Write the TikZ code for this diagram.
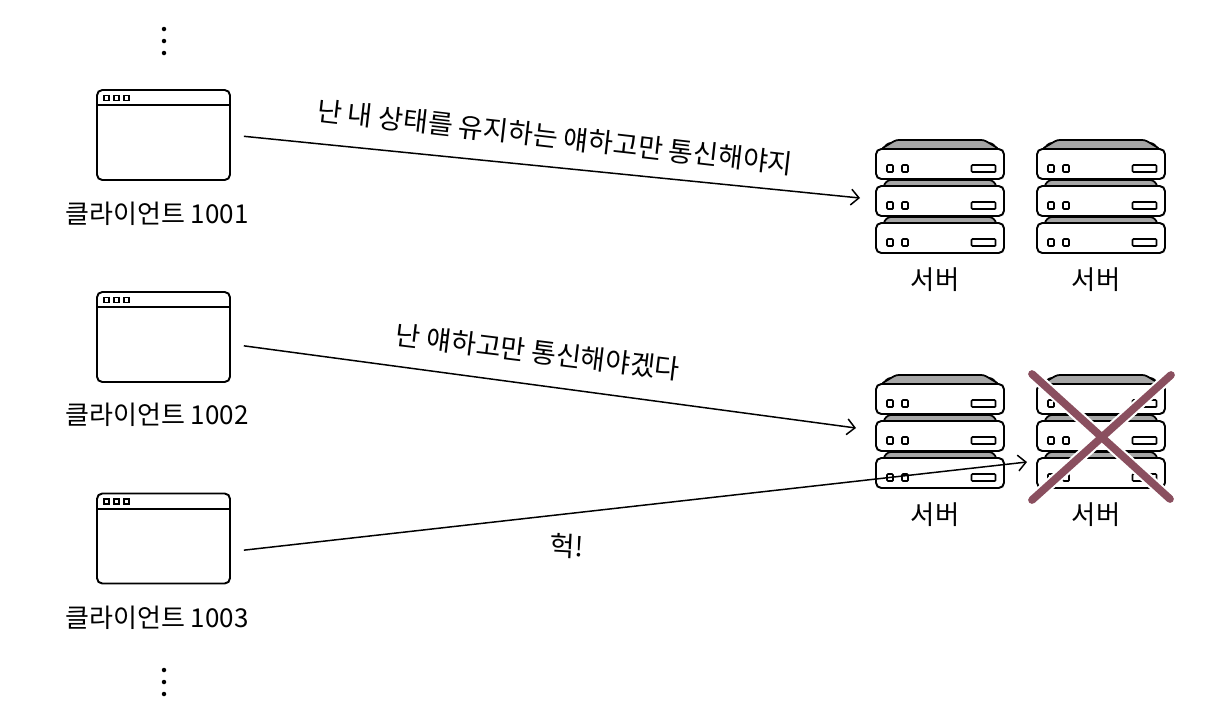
\documentclass[tikz,border=0pt]{standalone}
\usepackage{fontspec}
\setmainfont{Noto Sans CJK KR}
\usetikzlibrary{arrows.meta}
\definecolor{crossred}{HTML}{8A4F5F}

\tikzset{
	sketch/.style={draw=black,line width=1.1pt,fill=white,rounded corners=3pt},
	winbox/.style={sketch,minimum width=2.66cm,minimum height=1.8cm,inner sep=0pt},
	winbtn/.style={draw=black,line width=0.8pt,minimum size=0.1cm,inner sep=0pt},
	srvbox/.style={sketch,minimum width=2.56cm,minimum height=0.6cm,inner sep=0pt},
	srvtop/.style={draw=black,line width=1pt,fill=black!35,line join=round,rounded corners=1.5pt},
	srvbtn/.style={draw=black,line width=0.9pt,fill=white,minimum width=0.12cm,minimum height=0.14cm,inner sep=0pt,rounded corners=0.5pt},
	srvslot/.style={draw=black,line width=0.9pt,fill=white,minimum width=0.48cm,minimum height=0.14cm,inner sep=0pt,rounded corners=0.5pt},
	caption/.style={font=\fontsize{14.8}{17}\selectfont,inner sep=0pt},
	srvname/.style={font=\fontsize{15}{17}\selectfont,inner sep=0pt},
	remark/.style={font=\fontsize{15.4}{18}\selectfont,inner sep=0pt},
	moredot/.style={circle,fill=black,minimum size=0.09cm,inner sep=0pt},
}

% #1 name, #2 left, #3 top of the grey lid
\newcommand{\serverstack}[3]{
	\foreach \lvl/\ya in {a/9,b/46,c/83} {
		\fill [srvtop] (#2+7,#3+\ya) -- (#2+12,#3+\ya-6) -- (#2+116,#3+\ya-6) -- (#2+121,#3+\ya) -- cycle;
		\node [srvbox] (#1\lvl) at (#2+64,#3+\ya+15) {};
		\node [srvbtn] (#1\lvl l) at (#2+14,#3+\ya+19.5) {};
		\node [srvbtn] (#1\lvl m) at (#2+29,#3+\ya+19.5) {};
		\node [srvslot] (#1\lvl r) at (#2+107.5,#3+\ya+19.5) {};
	}
	\fill [srvtop] (#2+5,#3+9) -- (#2+20,#3) -- (#2+108,#3) -- (#2+123,#3+9) -- cycle;
}

\begin{document}
\begin{tikzpicture}[x=0.02cm,y=-0.02cm]
		\useasboundingbox (0,0) rectangle (1214,718);

		\begin{scope}[every node/.style={moredot}]
		    \node (d1) at (164,29) {};
		    \node (d2) at (164,41) {};
		    \node (d3) at (164,53) {};
		    \node (d4) at (164,670) {};
		    \node (d5) at (164,682) {};
		    \node (d6) at (164,694) {};
		\end{scope}

		\node [winbox] (win1) at (163.5,135) {};
		\node [winbox] (win2) at (163.5,337) {};
		\node [winbox] (win3) at (163.5,538.5) {};
		\foreach \w in {win1,win2,win3} {
		    \draw [line width=1.1pt] ([yshift=-0.32cm]\w.north west) -- ([yshift=-0.32cm]\w.north east);
		    \node [winbtn] (\w a) at ([xshift=0.21cm,yshift=-0.18cm]\w.north west) {};
		    \node [winbtn] (\w b) at ([xshift=0.41cm,yshift=-0.18cm]\w.north west) {};
		    \node [winbtn] (\w c) at ([xshift=0.61cm,yshift=-0.18cm]\w.north west) {};
		}

		\node [caption] (name1) at (157,214) {클라이언트 1001};
		\node [caption] (name2) at (157,415) {클라이언트 1002};
		\node [caption] (name3) at (157,618) {클라이언트 1003};

		\serverstack{srva}{876}{140}
		\serverstack{srvb}{1037}{140}
		\serverstack{srvc}{876}{375}
		\serverstack{srvd}{1037}{375}

		\node [srvname] (lbla) at (935,280) {서버};
		\node [srvname] (lblb) at (1096,280) {서버};
		\node [srvname] (lblc) at (935,515) {서버};
		\node [srvname] (lbld) at (1096,515) {서버};

		\coordinate (tip1) at (860,198);
		\coordinate (tip2) at (856,428);
		\coordinate (tip3) at (1027,462);

		\begin{scope}[>={Straight Barb[length=4.5pt,width=9pt]},
		              every edge/.style={draw=black,line width=0.85pt,shorten <=0.26cm}]
		    \path [->] (win1.east) edge (tip1);
		    \path [->] (win2.-6) edge (tip2);
		    \path [->] (win3.-11) edge (tip3);
		\end{scope}

		\node [remark,rotate=-6.5] (say1) at (555,137) {난 내 상태를 유지하는 얘하고만 통신해야지};
		\node [remark,rotate=-7] (say2) at (538,352) {난 얘하고만 통신해야겠다};
		\node [remark,rotate=-3] (say3) at (567,546) {헉!};

		\coordinate (xa) at (1032,374);
		\coordinate (xb) at (1170,499);
		\coordinate (xc) at (1171,375);
		\coordinate (xd) at (1032,500);
		\begin{scope}[line cap=round]
		    \draw [white,line width=6.8pt] (xa) -- (xb);
		    \draw [white,line width=6.8pt] (xc) -- (xd);
		    \draw [draw=crossred,line width=4.4pt] (xa) -- (xb);
		    \draw [draw=crossred,line width=4.4pt] (xc) -- (xd);
		\end{scope}
		\end{tikzpicture}
\end{document}
